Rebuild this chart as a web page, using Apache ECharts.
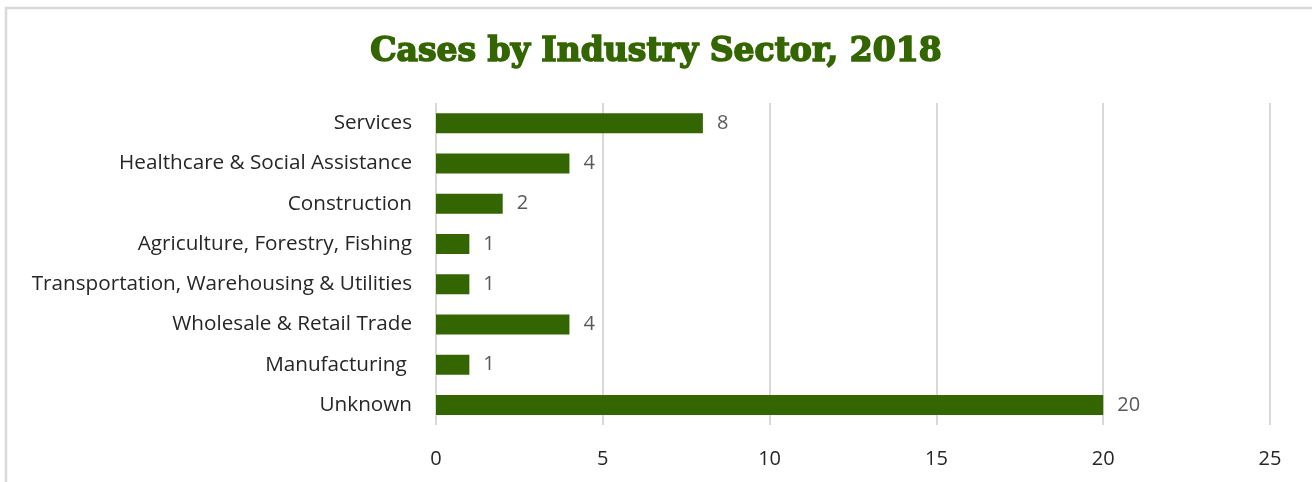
<!DOCTYPE html>
<html><head><meta charset="utf-8">
<script src="https://cdn.jsdelivr.net/npm/echarts@6/dist/echarts.min.js"></script>
<style>html,body{margin:0;padding:0;background:#fff}#c{width:1312px;height:482px}</style>
</head><body><div id="c"></div>
<script>
const categories = ["Services","Healthcare & Social Assistance","Construction","Agriculture, Forestry, Fishing","Transportation, Warehousing & Utilities","Wholesale & Retail Trade","Manufacturing ","Unknown"];
const cases = [8,4,2,1,1,4,1,20];
const xTicks = [0,5,10,15,20,25];

const chart = echarts.init(document.getElementById('c'), null, {renderer:'canvas'});
const txt = '#262626';
chart.setOption({
  animation:false,
  title:{text:'Cases by Industry Sector, 2018', left:'center', top:31,
    textStyle:{fontFamily:'DejaVu Serif', fontWeight:'bold', fontSize:33, color:'#336600',
      textBorderColor:'#336600', textBorderWidth:1.6}},
  graphic:[{type:'rect', shape:{x:6,y:8,width:1320,height:490}, style:{fill:'none',stroke:'#d9d9d9',lineWidth:2.5}, silent:true}],
  grid:{left:436, right:42, top:103, bottom:57},
  xAxis:{type:'value', min:xTicks[0], max:xTicks[xTicks.length-1], interval:5,
    axisLine:{show:false}, axisTick:{show:false},
    splitLine:{show:true, lineStyle:{color:'#d9d9d9', width:2}},
    axisLabel:{color:txt, fontSize:20, fontFamily:'Open Sans', margin:24}},
  yAxis:{type:'category', data:categories, inverse:true,
    axisLine:{show:false}, axisTick:{show:false},
    axisLabel:{color:txt, fontSize:20.7, fontFamily:'Open Sans', margin:24}},
  series:[{type:'bar', data:cases, barWidth:20, itemStyle:{color:'#336600'},
    label:{show:true, position:'right', distance:14, color:'#595959', fontSize:20, fontFamily:'Open Sans'}}]
});
</script></body></html>
